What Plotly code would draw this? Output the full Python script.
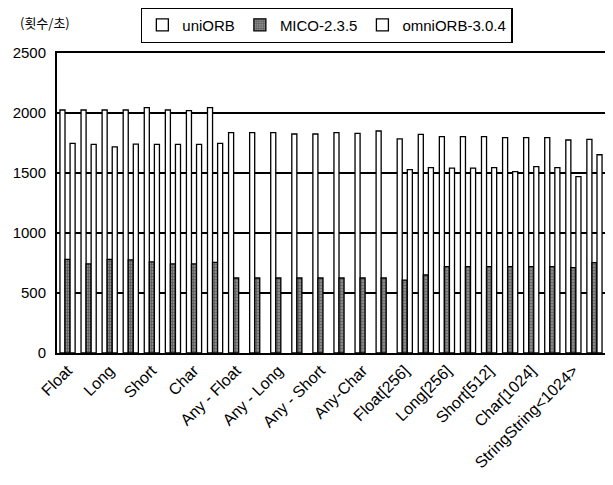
import plotly.graph_objects as go

categories = [
    "Float", "Double", "Long", "ULong", "Short", "UShort", "Char", "Octet",
    "Any - Float", "Any - Double", "Any - Long", "Any - ULong",
    "Any - Short", "Any - UShort", "Any-Char", "Any-Octet",
    "Float[256]", "Double[256]", "Long[256]", "ULong[256]",
    "Short[512]", "UShort[512]", "Char[1024]", "Octet[1024]",
    "StringString<1024>", "String<1024>",
]
shown_labels = [
    "Float", "Long", "Short", "Char", "Any - Float", "Any - Long",
    "Any - Short", "Any-Char", "Float[256]", "Long[256]", "Short[512]",
    "Char[1024]", "StringString<1024>",
]

uniorb = [2025, 2025, 2025, 2025, 2045, 2025, 2020, 2045,
          1836, 1836, 1836, 1825, 1825, 1836, 1830, 1850,
          1785, 1822, 1803, 1803, 1803, 1794, 1794, 1794, 1775, 1780]
mico = [780, 742, 780, 776, 760, 742, 742, 755,
        625, 625, 625, 625, 625, 625, 625, 625,
        608, 650, 720, 720, 720, 720, 720, 720, 711, 753]
omniorb = [1747, 1739, 1718, 1740, 1739, 1739, 1739, 1747,
           None, None, None, None, None, None, None, None,
           1528, 1545, 1540, 1540, 1545, 1511, 1553, 1545, 1470, 1652]

series_names = ["uniORB", "MICO-2.3.5", "omniORB-3.0.4"]

fig = go.Figure()
fig.add_trace(go.Bar(name=series_names[0], x=categories, y=uniorb,
                     marker=dict(color="white", line=dict(color="black", width=1.3))))
fig.add_trace(go.Bar(name=series_names[1], x=categories, y=mico,
                     marker=dict(color="#6a6a6a", line=dict(color="black", width=1.3),
                                 pattern=dict(shape="+", fgcolor="#2a2a2a", bgcolor="#8a8a8a",
                                              size=3, solidity=0.4))))
fig.add_trace(go.Bar(name=series_names[2], x=categories, y=omniorb,
                     marker=dict(color="white", line=dict(color="black", width=1.3))))

fig.update_layout(
    width=598, height=469,
    margin=dict(l=49, r=1, t=45, b=124, autoexpand=False),
    paper_bgcolor="white", plot_bgcolor="white",
    barmode="group", bargap=0.28, bargroupgap=0,
    font=dict(family="Liberation Sans, Arial, sans-serif", color="black", size=15),
    legend=dict(orientation="h", x=0.153, xanchor="left", y=1.153, yanchor="top",
                bordercolor="black", borderwidth=1.5, font=dict(size=15),
                itemwidth=30, tracegroupgap=0),
    annotations=[dict(text="(횟수/초)", xref="paper", yref="paper", x=-0.072, y=1.10,
                      xanchor="left", yanchor="middle", showarrow=False,
                      font=dict(family="Noto Sans CJK KR", size=13, color="black"))],
)
fig.update_xaxes(
    type="category", tickmode="array", tickvals=categories[::2], ticktext=shown_labels,
    tickangle=-45, tickfont=dict(size=16), showline=True, linecolor="black", linewidth=2,
    mirror=True, ticks="", showgrid=False, automargin=False,
)
fig.update_yaxes(
    range=[0, 2500], dtick=500, showgrid=True, gridcolor="black", gridwidth=2,
    showline=True, linecolor="black", linewidth=2, mirror=True, ticks="",
    tickfont=dict(size=15), zeroline=False, automargin=False, ticklabelstandoff=6,
)

fig.write_html("out.html")
